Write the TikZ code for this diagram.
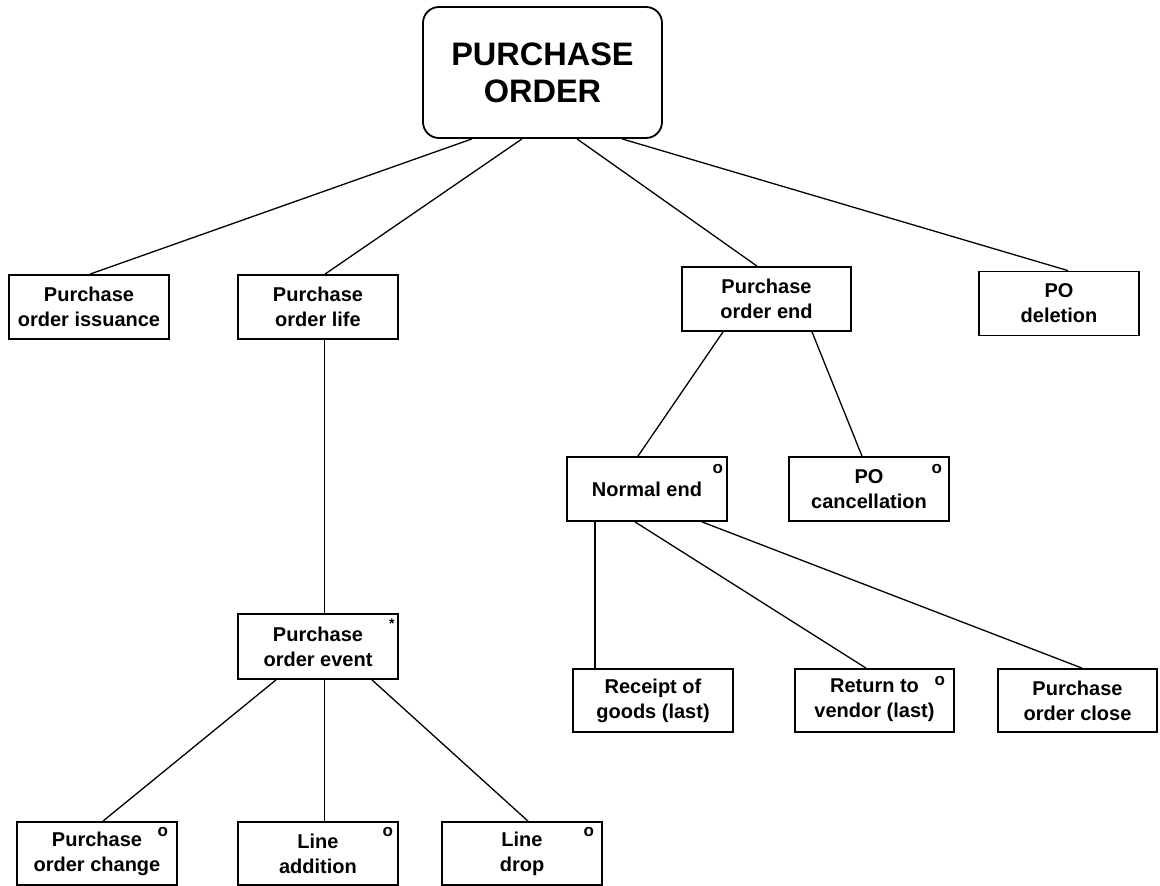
\documentclass[tikz,border=0pt]{standalone}
\usepackage{fontspec}
\setmainfont{Liberation Sans}
\begin{document}
\begin{tikzpicture}[x=1pt,y=-1pt,
  box/.style={draw,line width=1.8pt,inner sep=0pt,minimum width=160pt,minimum height=64pt,
    align=center,font=\fontsize{20}{25}\selectfont\bfseries},
  rootbox/.style={draw,line width=1.8pt,rounded corners=16pt,inner sep=0pt,minimum width=239pt,minimum height=131pt,
    align=center,font=\fontsize{32.5}{37}\selectfont\bfseries},
  conn/.style={line width=1.3pt},
  tagmark/.style={inner sep=0pt,font=\fontsize{17}{17}\selectfont\bfseries}]
\useasboundingbox (0,0) rectangle (1160,886);
% nodes
\node[rootbox] (root) at (542.5,72.5) {PURCHASE\\ORDER};
\node[box] (iss) at (89,307) {Purchase\\order issuance};
\node[box] (life) at (318,307) {Purchase\\order life};
\node[box,minimum width=169pt] (poend) at (766.5,299) {Purchase\\order end};
\node[box] (del) at (1059,303.5) {PO\\deletion};
\node[box,minimum height=65pt] (event) at (318,646.5) {Purchase\\order event};
\node[box] (norm) at (647,489) {Normal end};
\node[box] (canc) at (869,489) {PO\\cancellation};
\node[box,minimum height=63pt] (rec) at (653,700.5) {Receipt of\\goods (last)};
\node[box,minimum width=159pt,minimum height=63pt] (ret) at (874.5,700.5) {Return to\\vendor (last)};
\node[box,minimum width=159pt,minimum height=63pt] (close) at (1077.5,700.5) {Purchase\\order close};
\node[box,minimum height=63pt] (change) at (97,853.5) {Purchase\\order change};
\node[box,minimum height=63pt] (add) at (318,853.5) {Line\\addition};
\node[box,minimum height=63pt] (drop) at (522,853.5) {Line\\drop};
% marks
\node[tagmark] (mnorm) at ([xshift=-10pt,yshift=-13pt]norm.north east) {o};
\node[tagmark] (mcanc) at ([xshift=-13pt,yshift=-13pt]canc.north east) {o};
\node[tagmark] (mret) at ([xshift=-15pt,yshift=-13pt]ret.north east) {o};
\node[tagmark] (mchange) at ([xshift=-15pt,yshift=-11pt]change.north east) {o};
\node[tagmark] (madd) at ([xshift=-11pt,yshift=-11pt]add.north east) {o};
\node[tagmark] (mdrop) at ([xshift=-14pt,yshift=-11pt]drop.north east) {o};
\node[tagmark,font=\fontsize{14}{14}\selectfont\bfseries] (mevent) at ([xshift=-7pt,yshift=-11pt]event.north east) {*};
% connectors
\draw[conn] ([xshift=-70.5pt]root.south) -- ([xshift=1pt]iss.north);
\draw[conn] ([xshift=-20.5pt]root.south) -- ([xshift=7pt]life.north);
\draw[conn] ([xshift=34.5pt]root.south) -- ([xshift=-9.5pt]poend.north);
\draw[conn] ([xshift=79.5pt]root.south) -- ([xshift=9pt]del.north);
\draw[conn] ([xshift=6.5pt]life.south) -- ([xshift=6.5pt]event.north);
\draw[conn] ([xshift=-42pt]event.south) -- ([xshift=6pt]change.north);
\draw[conn] ([xshift=6.5pt]event.south) -- ([xshift=6.5pt]add.north);
\draw[conn] ([xshift=54pt]event.south) -- ([xshift=6pt]drop.north);
\draw[conn] ([xshift=-43.5pt]poend.south) -- ([xshift=-9pt]norm.north);
\draw[conn] ([xshift=45.5pt]poend.south) -- ([xshift=-7pt]canc.north);
\draw[conn] ([xshift=-52pt]norm.south) -- ([xshift=-58pt]rec.north);
\draw[conn] ([xshift=-12pt]norm.south) -- ([xshift=-8.5pt]ret.north);
\draw[conn] ([xshift=55pt]norm.south) -- ([xshift=4.5pt]close.north);
\end{tikzpicture}
\end{document}
